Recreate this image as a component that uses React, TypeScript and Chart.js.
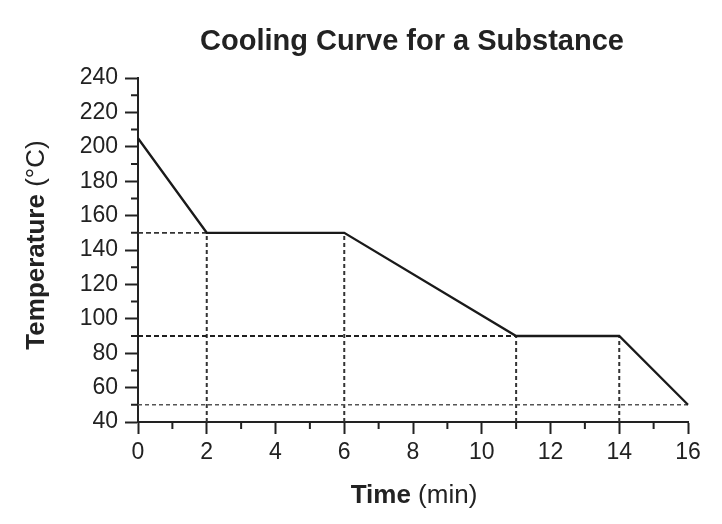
import React, { useEffect, useRef } from "react";
import { Chart, registerables, Plugin } from "chart.js";

Chart.register(...registerables);

const TITLE = "Cooling Curve for a Substance";
const FONT = "'Liberation Sans', Arial, Helvetica, sans-serif";
const INK = "#222";

// cooling curve corners
const timeMin = [0, 2, 6, 11, 14, 16];
const temperatureC = [205, 150, 150, 90, 90, 50];

// dashed reading guides
const levelGuides = [150, 90, 50];
const levelGuideEnds = [2, 11, 16];
const timeGuides = [2, 6, 11, 14];
const timeGuideTops = [150, 150, 90, 90];

const Y_MIN = 40;
const Y_MAX = 240;
const X_MIN = 0;
const X_MAX = 16;

const drawMixed = (ctx: CanvasRenderingContext2D, bold: string, normal: string, x: number, y: number, size: number) => {
  ctx.font = `bold ${size}px ${FONT}`;
  const w1 = ctx.measureText(bold).width;
  ctx.font = `${size}px ${FONT}`;
  const w2 = ctx.measureText(normal).width;
  const start = x - (w1 + w2) / 2;
  ctx.textAlign = "left";
  ctx.font = `bold ${size}px ${FONT}`;
  ctx.fillText(bold, start, y);
  ctx.font = `${size}px ${FONT}`;
  ctx.fillText(normal, start + w1, y);
};

const decorations: Plugin<"scatter"> = {
  id: "decorations",
  afterDraw(chart) {
    const { ctx, chartArea, scales } = chart;
    const x = scales.x;
    const y = scales.y;
    ctx.save();

    // minor ticks
    ctx.strokeStyle = INK;
    ctx.lineWidth = 2;
    ctx.beginPath();
    for (let t = X_MIN + 1; t < X_MAX; t += 2) {
      const px = x.getPixelForValue(t);
      ctx.moveTo(px, chartArea.bottom);
      ctx.lineTo(px, chartArea.bottom + 7);
    }
    for (let v = Y_MIN + 10; v < Y_MAX; v += 20) {
      const py = y.getPixelForValue(v);
      ctx.moveTo(chartArea.left, py);
      ctx.lineTo(chartArea.left - 7, py);
    }
    ctx.stroke();

    // titles
    ctx.fillStyle = INK;
    ctx.textBaseline = "alphabetic";
    ctx.textAlign = "center";
    ctx.font = `bold 29px ${FONT}`;
    const cx = (chartArea.left + chartArea.right) / 2;
    ctx.fillText(TITLE, cx - 1, 50);

    drawMixed(ctx, "Time", " (min)", cx + 1, 503, 26);

    ctx.translate(44, (chartArea.top + chartArea.bottom) / 2 - 5);
    ctx.rotate(-Math.PI / 2);
    drawMixed(ctx, "Temperature", " (°C)", 0, 0, 26);
    ctx.restore();
  },
};

const App: React.FC = () => {
  const canvas = useRef<HTMLCanvasElement>(null);

  useEffect(() => {
    const guideBase = {
      showLine: true,
      pointRadius: 0,
      borderCapStyle: "butt" as const,
      clip: false as const,
    };

    const levelStyles = [
      { borderColor: "#333", borderWidth: 1.7, borderDash: [5, 3] },
      { borderColor: "#1e1e1e", borderWidth: 2.2, borderDash: [5, 3] },
      { borderColor: "#555", borderWidth: 1.6, borderDash: [4, 3] },
    ];

    const chart = new Chart(canvas.current!.getContext("2d")!, {
      type: "scatter",
      data: {
        datasets: [
          {
            label: "Cooling curve",
            data: timeMin.map((t, i) => ({ x: t, y: temperatureC[i] })),
            showLine: true,
            borderColor: "#1a1a1a",
            borderWidth: 2.3,
            pointRadius: 0,
            clip: false,
          },
          ...levelGuides.map((v, i) => ({
            ...guideBase,
            ...levelStyles[i],
            label: `level ${v}`,
            data: [
              { x: X_MIN, y: v },
              { x: levelGuideEnds[i], y: v },
            ],
          })),
          ...timeGuides.map((t, i) => ({
            ...guideBase,
            label: `time ${t}`,
            borderColor: "#333",
            borderWidth: 2,
            borderDash: [4, 3],
            data: [
              { x: t, y: Y_MIN },
              { x: t, y: timeGuideTops[i] },
            ],
          })),
        ],
      },
      options: {
        responsive: false,
        animation: false,
        layout: {
          padding: { left: 0, top: 78, right: 34, bottom: 0 },
        },
        scales: {
          x: {
            type: "linear",
            min: X_MIN,
            max: X_MAX,
            afterFit: scale => {
              scale.height = 102;
            },
            border: { display: true, color: INK, width: 2 },
            grid: {
              drawOnChartArea: false,
              drawTicks: true,
              tickLength: 12,
              tickWidth: 2,
              tickColor: INK,
            },
            ticks: {
              stepSize: 2,
              autoSkip: false,
              maxRotation: 0,
              padding: 5,
              color: INK,
              font: { family: FONT, size: 23 },
            },
          },
          y: {
            type: "linear",
            min: Y_MIN,
            max: Y_MAX,
            afterFit: scale => {
              scale.width = 138;
            },
            border: { display: true, color: INK, width: 2 },
            grid: {
              drawOnChartArea: false,
              drawTicks: true,
              tickLength: 13,
              tickWidth: 2,
              tickColor: INK,
            },
            ticks: {
              stepSize: 20,
              autoSkip: false,
              padding: 7,
              color: INK,
              font: { family: FONT, size: 23 },
            },
          },
        },
        plugins: {
          legend: { display: false },
          tooltip: { enabled: false },
          title: { display: false },
        },
      },
      plugins: [decorations],
    });

    return () => {
      chart.destroy();
    };
  }, []);

  return (
    <div style={{ position: "fixed", left: 0, top: 0, width: 722, height: 524, background: "#fff" }}>
      <canvas ref={canvas} width={722} height={524}></canvas>
    </div>
  );
};

export default App;
